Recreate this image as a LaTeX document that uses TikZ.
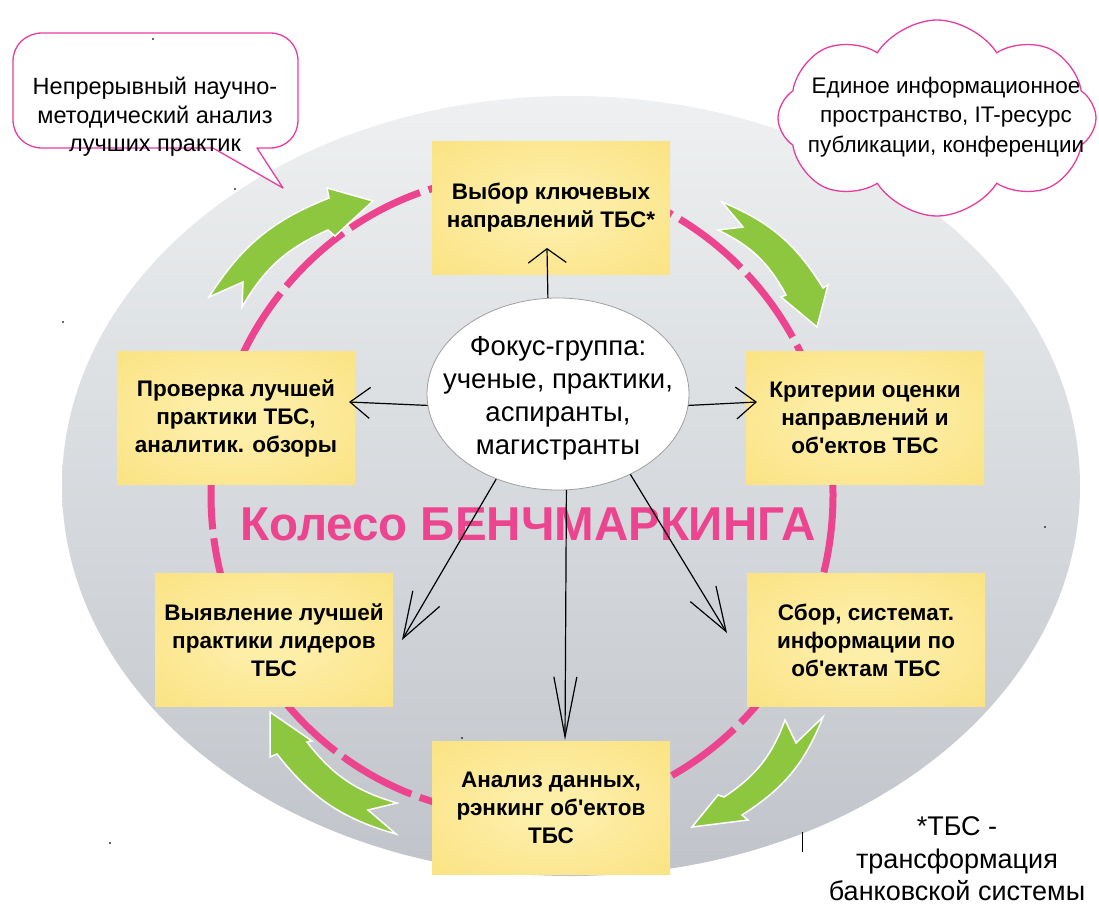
\documentclass[tikz,border=0pt]{standalone}
\usepackage{fontspec}
\setmainfont{Liberation Sans}
\usetikzlibrary{arrows.meta,shapes.geometric,shapes.symbols,calc}
\definecolor{pinkc}{RGB}{236,68,142}
\definecolor{bubblepink}{RGB}{232,60,160}
\definecolor{greenc}{RGB}{141,198,63}
\definecolor{ylight}{RGB}{253,238,168}
\definecolor{ydark}{RGB}{249,219,104}
\definecolor{gtop}{RGB}{238,240,241}
\definecolor{gbot}{RGB}{192,196,202}
\definecolor{eedge}{RGB}{220,220,220}
\pgfdeclareradialshading{yshade}{\pgfpoint{0bp}{0bp}}{color(0bp)=(ylight); color(8bp)=(ylight); color(55bp)=(ydark); color(75bp)=(ydark)}
\pgfdeclareradialshading{eshade}{\pgfpoint{0bp}{0bp}}{color(0bp)=(white); color(30bp)=(white); color(50bp)=(eedge); color(60bp)=(eedge)}
\begin{document}
\begin{tikzpicture}[x=1pt,y=-1pt,
  ybox/.style={rectangle, minimum width=238pt, minimum height=133pt, inner sep=0pt,
    align=center, shade, shading=yshade, font=\bfseries\fontsize{22.5}{28}\selectfont},
  garrow/.style={fill=greenc, draw=white, line width=1.5pt, line join=miter},
  conn/.style={line width=1.2pt, black},
  plain/.style={align=center, inner sep=0pt}
]
\useasboundingbox (0,0) rectangle (1099,908);
\fill[white] (0,0) rectangle (1099,908);

% big gray ellipse
\shade[top color=gtop, bottom color=gbot] (571,486) ellipse [x radius=509, y radius=390];

% speech bubble
\draw[bubblepink, fill=white, line width=1.3pt, line join=round]
  (42,33) -- (270,33) .. controls (286,33) and (298,45) .. (298,61) -- (298,120)
  .. controls (298,136) and (286,148) .. (270,148) -- (257,148) -- (283,188) -- (213,148)
  -- (42,148) .. controls (26,148) and (13,136) .. (13,120) -- (13,61)
  .. controls (13,45) and (26,33) .. (42,33) -- cycle;
\node[plain, font=\fontsize{23.5}{28.5}\selectfont] (bubtxt) at (155,117)
  {Непрерывный научно-\\методический анализ\\лучших практик};

% cloud
\node[cloud, cloud puffs=8, cloud puff arc=115, aspect=1.67, draw=bubblepink, fill=white,
  line width=1.3pt, minimum width=318pt, minimum height=196pt, inner sep=0pt] (cloud) at (937,118) {};
\node[plain, font=\fontsize{22.5}{29.5}\selectfont] (cloudtxt) at (946,117)
  {Единое информационное\\пространство, IT-ресурс\\публикации, конференции};

% pink dashed wheel
\draw[pinkc, line width=7pt, dash pattern=on 78pt off 9pt] (522,495) ellipse [x radius=311, y radius=320];

% title
\node[anchor=base west, text=pinkc, font=\bfseries\fontsize{47.5}{47.5}\selectfont, inner sep=0pt] (title) at (240,540) {Колесо БЕНЧМАРКИНГА};

% green arrows
\path[garrow] (209,297) to[bend left=18] (329,198) -- (327,188) -- (373,201) -- (335,236) -- (328,230)
  to[bend right=18] (242,307) -- (243,282) -- cycle;
\path[garrow] (722,202) to[bend left=18] (823,288) -- (828,285) -- (817,327) -- (781,297) -- (786,295)
  to[bend right=18] (718,230) -- (743,227) -- cycle;
\path[garrow] (823,717) to[bend left=18] (742,815) -- (748,820) -- (692,827) -- (718,795) -- (724,797)
  to[bend right=18] (785,720) -- (796,743) -- cycle;
\path[garrow] (396,834) to[bend left=18] (277,754) -- (270,757) -- (270,712) -- (312,741) -- (307,742)
  to[bend right=18] (397,803) -- (368,810) -- cycle;

% boxes
\node[ybox] (b1) at (551,208) {Выбор ключевых\\направлений ТБС*};
\node[ybox] (b2) at (865,418) {Критерии оценки\\направлений и\\об\textquotesingle ектов ТБС};
\node[ybox] (b3) at (866,640) {Сбор, системат.\\информации по\\об\textquotesingle ектам ТБС};
\node[ybox] (b4) at (551,808) {Анализ данных,\\рэнкинг об\textquotesingle ектов\\ТБС};
\node[ybox] (b5) at (274,640) {Выявление лучшей\\практики лидеров\\ТБС};
\node[ybox] (b6) at (236,418) {Проверка лучшей\\практики ТБС,\\аналитик. обзоры};

% focus group ellipse
\node[ellipse, minimum width=262pt, minimum height=192pt, inner sep=0pt, draw=gray!75,
  line width=0.8pt, shade, shading=eshade] (foc) at (558,394) {};
\node[plain, font=\fontsize{27.5}{33}\selectfont] (foctxt) at (558,398)
  {Фокус-группа:\\ученые, практики,\\аспиранты,\\магистранты};

% arrow tip coordinates
\coordinate (t1) at (547,248);
\coordinate (t2) at (757,402);
\coordinate (t3) at (727,633);
\coordinate (t4) at (565,740);
\coordinate (t5) at (402,640);
\coordinate (t6) at (349,402);

\draw[conn, -{Straight Barb[length=14pt,width=38pt]}] (foc.96) -- (t1);
\draw[conn, -{Straight Barb[length=20pt,width=32pt]}] (foc.355) -- (t2);
\draw[conn, -{Straight Barb[length=44pt,width=30pt]}] (foc.312) -- (t3);
\draw[conn, -{Straight Barb[length=60pt,width=23pt]}] (foc.275) -- (t4);
\draw[conn, -{Straight Barb[length=46pt,width=31pt]}] (foc.234) -- (t5);
\draw[conn, -{Straight Barb[length=20pt,width=31pt]}] (foc.185) -- (t6);

% footnote
\node[plain, font=\fontsize{27}{32.5}\selectfont] (note) at (957,859)
  {*ТБС -\\трансформация\\банковской системы};
\coordinate (barA) at (802,832);
\coordinate (barB) at (802,852);
\draw[line width=1pt] (barA) -- (barB);

% stray dots
\foreach \p in {(153,39),(235,189),(63,322),(1045,527),(110,843),(462,738)}
  \fill[black!80] \p circle[radius=1.2];
\end{tikzpicture}
\end{document}
